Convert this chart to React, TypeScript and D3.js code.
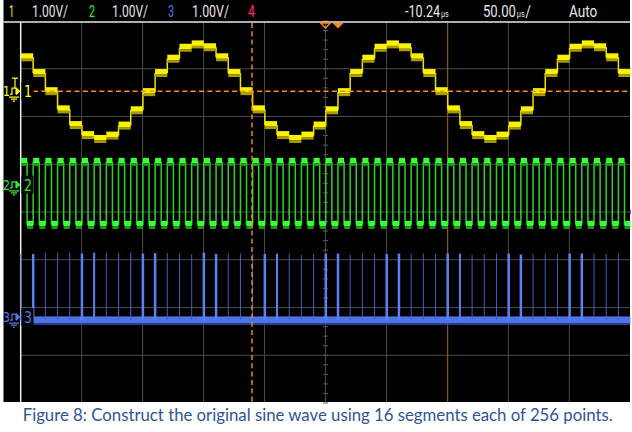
import React from "react";
import * as d3 from "d3";

// ---------- data ----------
const chNames = ["1", "2", "3", "4"];
const chColors = ["#ffff1a", "#2ef02e", "#5577ee", "#ff2f6e"];
const chScaleLabels = ["1.00V/", "1.00V/", "1.00V/"];
const delayLabel = "-10.24";
const timebaseLabel = "50.00";
const unitLabel = "µs";
const modeLabel = "Auto";
const caption =
  "Figure 8: Construct the original sine wave using 16 segments each of 256 points.";

const timePerDiv = 50; // µs / div
const delayUs = -10.24; // µs at screen centre
const voltsPerDiv = 1;

// channel ground positions, in divisions from screen centre
const ch1Offset = 2.53;
const ch2Offset = 0.57;
const ch3Offset = -2.2;

// sample segments (µs)
const stepStartUs = -260;
const stepUs = 10;

// channel 1: stepped sine, value (V) held for each 10 µs segment
const ch1Steps = [
  0.71, 0.38, 0.0, -0.38, -0.71, -0.92, -1.0, -0.93, -0.72, -0.4, -0.02, 0.38, 0.68, 0.91, 0.98, 0.92,
  0.71, 0.38, 0.0, -0.38, -0.71, -0.92, -1.0, -0.93, -0.72, -0.4, -0.02, 0.38, 0.68, 0.91, 0.98, 0.92,
  0.71, 0.38, 0.0, -0.38, -0.71, -0.92, -1.0, -0.93, -0.72, -0.4, -0.02, 0.38, 0.68, 0.91, 0.98, 0.92,
  0.71, 0.38,
];

// channel 2: clock, one char per half segment (1 = high, 0 = low)
const ch2Bits =
  "1010101010101010101010101010101010101010101010101010101010101010101010101010101010101010101010101010";
const ch2High = 0.48;
const ch2Low = -0.84;

// channel 3: pulse at each segment boundary
const ch3Base = -0.06;
const ch3Peaks = [
  1.32, 1.32, 1.35, 1.35, 1.35, 1.33, 1.35, 1.35, 1.35, 1.35, 1.33, 1.34, 1.34, 1.33, 1.32, 1.35, 1.32,
  1.33, 1.33, 1.33, 1.32, 1.33, 1.33, 1.3, 1.32, 1.33, 1.33, 1.31, 1.33, 1.33, 1.32, 1.33, 1.33,
  1.33, 1.32, 1.33, 1.33, 1.3, 1.32, 1.33, 1.33, 1.31, 1.33, 1.33, 1.32, 1.33, 1.33, 1.33, 1.32, 1.33,
];
const ch3Widths = [
  1, 2.5, 1, 1, 1, 2.5, 2, 1, 1.2, 1.2, 2.5, 2.5, 1, 1, 1, 2.5, 2.5,
  1, 1, 1, 2.5, 2, 1, 1, 1, 2.5, 2.5, 1, 1, 1, 2.5, 2.5, 1,
  1, 1, 2.5, 2, 1, 1, 1, 2.5, 2.5, 1, 1, 1, 2.5, 2.5, 1, 1, 1,
];

// markers (µs)
const cursorDashedUs = -70.5;
const cursorSolidUs = 90;

// ---------- geometry ----------
const W = 632;
const H = 432;
const GX0 = 20.7;
const GX1 = 630.3;
const GY0 = 21;
const GY1 = 403;
const ORANGE = "#ff8c1a";

export default function App() {
  const x = d3
    .scaleLinear()
    .domain([delayUs - 5 * timePerDiv, delayUs + 5 * timePerDiv])
    .range([GX0, GX1]);
  const yDiv = d3.scaleLinear().domain([-4, 4]).range([GY1, GY0]);
  const yCh = (off: number) => (v: number) => yDiv(off + v / voltsPerDiv);
  const y1 = yCh(ch1Offset);
  const y2 = yCh(ch2Offset);
  const y3 = yCh(ch3Offset);
  const clipX = (v: number) => Math.max(GX0, Math.min(GX1, v));

  const xDivs = d3.range(-4, 5).map((k) => x(delayUs + k * timePerDiv));
  const yDivs = d3.range(-3, 4).map((k) => yDiv(k));
  const cx = x(delayUs);
  const cy = yDiv(0);
  const minorY = d3.range(-20, 21).map((j) => yDiv(j * 0.2));
  const minorX = d3.range(-25, 26).map((j) => x(delayUs + j * timePerDiv * 0.2));

  const ch1Segs = ch1Steps.map((v, i) => {
    const t0 = stepStartUs + i * stepUs;
    return { x0: clipX(x(t0)), x1: clipX(x(t0 + stepUs)), y: y1(v), prev: i > 0 ? y1(ch1Steps[i - 1]) : null };
  });

  const halfUs = stepUs / 2;
  const ch2Segs = ch2Bits.split("").map((b, i) => {
    const t0 = stepStartUs + i * halfUs;
    const lvl = b === "1" ? ch2High : ch2Low;
    const prevLvl = i > 0 ? (ch2Bits[i - 1] === "1" ? ch2High : ch2Low) : null;
    return {
      x0: clipX(x(t0)),
      x1: clipX(x(t0 + halfUs)),
      y: y2(lvl),
      prev: prevLvl === null ? null : y2(prevLvl),
    };
  });

  const ch3Spikes = ch3Peaks.map((p, i) => ({
    x: x(stepStartUs + i * stepUs),
    yTop: y3(p),
    w: ch3Widths[i],
  }));

  const labelBox = (yc: number, n: string, color: string) => (
    <g>
      <rect x={GX0 + 0.8} y={yc - 9} width={12} height={18} fill="#000" />
      <text x={24} y={yc + 6} fill={color} fontSize={15} fontFamily="DejaVu Sans, sans-serif" textLength={8} lengthAdjust="spacingAndGlyphs">
        {n}
      </text>
    </g>
  );

  const leftMarker = (yc: number, n: string, color: string, withT: boolean) => (
    <g stroke={color} fill="none" strokeWidth={1.2}>
      <text x={3} y={yc + 5} fill={color} stroke="none" fontSize={14} fontFamily="DejaVu Sans, sans-serif" textLength={7} lengthAdjust="spacingAndGlyphs">
        {n}
      </text>
      {withT && <path d={`M12 ${yc - 13} H18 M15 ${yc - 13} V${yc - 3}`} />}
      <path d={`M10 ${yc + 3} H12 V${yc - 3} H16 V${yc + 3}`} />
      <path d={`M9 ${yc + 6} H19 M11 ${yc + 8} H17 M13 ${yc + 10} H15`} />
      <path d={`M16 ${yc - 4} L20.5 ${yc} L16 ${yc + 4} Z`} fill={color} stroke="none" />
    </g>
  );

  const topFont = "Liberation Sans Narrow, Roboto, DejaVu Sans, sans-serif";

  return (
    <svg
      width={W}
      height={H}
      viewBox={`0 0 ${W} ${H}`}
      style={{ position: "absolute", left: 0, top: 0, background: "#fff" }}
    >
      <rect x={3.5} y={0} width={626.5} height={402} fill="#000" />

      {/* top status bar */}
      <g fontFamily={topFont} fontSize={16}>
        <text x={9} y={17} fill={chColors[0]} textLength={5} lengthAdjust="spacingAndGlyphs">{chNames[0]}</text>
        <text x={32} y={17} fill="#e6e6e6" textLength={36} lengthAdjust="spacingAndGlyphs">{chScaleLabels[0]}</text>
        <text x={89} y={17} fill={chColors[1]} textLength={6} lengthAdjust="spacingAndGlyphs">{chNames[1]}</text>
        <text x={112} y={17} fill="#e6e6e6" textLength={36} lengthAdjust="spacingAndGlyphs">{chScaleLabels[1]}</text>
        <text x={168} y={17} fill={chColors[2]} textLength={6} lengthAdjust="spacingAndGlyphs">{chNames[2]}</text>
        <text x={192} y={17} fill="#e6e6e6" textLength={37} lengthAdjust="spacingAndGlyphs">{chScaleLabels[2]}</text>
        <text x={248} y={17} fill={chColors[3]} textLength={7} lengthAdjust="spacingAndGlyphs">{chNames[3]}</text>

        <text transform="translate(405,17) scale(0.79,1)" fill="#e6e6e6">
          {delayLabel}
          <tspan fontSize={9} dx={1}>{unitLabel}</tspan>
        </text>

        <text transform="translate(483,17) scale(0.82,1)" fill="#e6e6e6">
          {timebaseLabel}
          <tspan fontSize={9} dx={1}>{unitLabel}</tspan>
          <tspan dx={1}>/</tspan>
        </text>

        <text transform="translate(569,17) scale(0.85,1)" fill="#e6e6e6">{modeLabel}</text>
      </g>

      {/* graticule */}
      <g stroke="#4a4a4a" strokeWidth={1}>
        {xDivs.map((v, i) => (
          <line key={"vx" + i} x1={v} x2={v} y1={GY0 + 1} y2={402} />
        ))}
        {yDivs.map((v, i) => (
          <line key={"hy" + i} x1={GX0} x2={GX1} y1={v} y2={v} />
        ))}
      </g>
      <g stroke="#5a5a5a" strokeWidth={1}>
        {minorY.map((v, i) => (
          <line key={"my" + i} x1={cx - 2.5} x2={cx + 2.5} y1={v} y2={v} />
        ))}
        {minorX.map((v, i) => (
          <line key={"mx" + i} x1={v} x2={v} y1={cy - 2.5} y2={cy + 2.5} />
        ))}
      </g>

      {/* solid cursor */}
      <line x1={x(cursorSolidUs)} x2={x(cursorSolidUs)} y1={GY0} y2={402} stroke="#9a5a14" strokeWidth={1} />

      {/* frame lines */}
      <line x1={3.5} x2={630} y1={22} y2={22} stroke="#e8e8e8" strokeWidth={1.3} />
      <line x1={GX0} x2={GX0} y1={22} y2={402} stroke="#f0f0f0" strokeWidth={1.5} />

      {/* channel 3 */}
      <g>
        <rect x={GX0} y={y3(ch3Base) - 3.5} width={GX1 - GX0} height={7} fill="#4f74e8" />
        <rect x={GX0} y={y3(ch3Base) + 3.5} width={GX1 - GX0} height={1.5} fill="#2a44a0" />
        {ch3Spikes.map((s, i) => (
          <line
            key={"sp" + i}
            x1={s.x}
            x2={s.x}
            y1={s.yTop}
            y2={y3(ch3Base)}
            stroke={s.w > 1.5 ? "#5a80f6" : "#3d5ec4"}
            strokeWidth={s.w}
          />
        ))}
      </g>

      {/* channel 2 */}
      <g>
        {ch2Segs.map((s, i) =>
          s.prev !== null && s.prev !== s.y ? (
            <line key={"e" + i} x1={s.x0} x2={s.x0} y1={s.prev} y2={s.y} stroke="#28d428" strokeWidth={1.5} />
          ) : null
        )}
        {ch2Segs.map((s, i) => (
          <g key={"g2" + i}>
            <rect x={s.x0} y={s.y - 4} width={Math.max(0, s.x1 - s.x0)} height={5.5} fill="#3cff3c" />
            <rect x={s.x0} y={s.y + 1.5} width={Math.max(0, s.x1 - s.x0)} height={2.5} fill="#1e9e1e" />
          </g>
        ))}
      </g>

      {/* channel 1 */}
      <g>
        {ch1Segs.map((s, i) =>
          s.prev !== null ? (
            <line key={"v1" + i} x1={s.x0} x2={s.x0} y1={s.prev} y2={s.y} stroke="#eee400" strokeWidth={1.5} />
          ) : null
        )}
        {ch1Segs.map((s, i) => (
          <g key={"s1" + i}>
            <rect x={s.x0} y={s.y - 4} width={Math.max(0, s.x1 - s.x0)} height={5.5} fill="#fbf200" />
            <rect x={s.x0} y={s.y + 1.5} width={Math.max(0, s.x1 - s.x0)} height={2.5} fill="#a89c00" />
          </g>
        ))}
      </g>

      {/* ch1 ground reference & dashed cursor */}
      <line x1={33} x2={GX1} y1={y1(0)} y2={y1(0)} stroke={ORANGE} strokeWidth={1.4} strokeDasharray="5 3.3" />
      <line x1={x(cursorDashedUs)} x2={x(cursorDashedUs)} y1={23} y2={402} stroke={ORANGE} strokeWidth={1.4} strokeDasharray="5 3.3" />

      {/* trigger markers */}
      <path d={`M${cx - 5} 23 L${cx + 5} 23 L${cx} 28 Z`} fill="none" stroke={ORANGE} strokeWidth={1.3} />
      <path d={`M${x(0) - 5.5} 23 L${x(0) + 5.5} 23 L${x(0)} 28.5 Z`} fill={ORANGE} />

      {/* channel labels */}
      {labelBox(y1(0), chNames[0], chColors[0])}
      {labelBox(y2(0), chNames[1], chColors[1])}
      {labelBox(y3(0), chNames[2], chColors[2])}
      {leftMarker(y1(0), chNames[0], chColors[0], true)}
      {leftMarker(y2(0), chNames[1], chColors[1], false)}
      {leftMarker(y3(0), chNames[2], chColors[2], false)}

      {/* caption */}
      <text
        x={22.7}
        y={421}
        fill="#2f5496"
        fontSize={17}
        fontFamily="Lato, 'Open Sans', sans-serif"
        textLength={590}
        lengthAdjust="spacingAndGlyphs"
      >
        {caption}
      </text>
    </svg>
  );
}
